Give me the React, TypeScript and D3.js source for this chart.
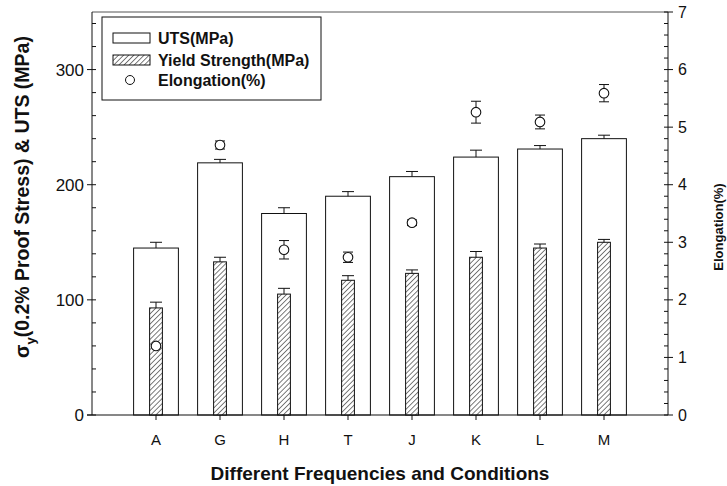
import React, { useRef, useEffect } from "react";
import * as d3 from "d3";

const categories = ["A", "G", "H", "T", "J", "K", "L", "M"];
const utsValues = [145, 219, 175, 190, 207, 224, 231, 240];
const utsErrors = [5, 3, 5, 4, 4.5, 6, 3, 3];
const yieldValues = [93, 133, 105, 117, 123, 137, 145, 150];
const yieldErrors = [5, 4, 5, 4, 3, 5, 3.5, 2.5];
const elongValues = [1.2, 4.69, 2.87, 2.74, 3.34, 5.26, 5.09, 5.59];
const elongErrors = [0.02, 0.07, 0.16, 0.09, 0.05, 0.19, 0.12, 0.15];
const leftTicks = [0, 100, 200, 300];
const rightTicks = [0, 1, 2, 3, 4, 5, 6, 7];

const App = () => {
  const ref = useRef(null);

  useEffect(() => {
    const root = d3.select(ref.current);
    root.selectAll("*").remove();

    const W = 727,
      H = 486;
    const left = 92,
      right = 668,
      top = 12,
      bottom = 415;
    const ink = "#111";
    const font = "Liberation Sans, Arial, sans-serif";

    const svg = root
      .append("svg")
      .attr("width", W)
      .attr("height", H)
      .style("display", "block")
      .style("background", "#fff")
      .attr("font-family", font);

    const defs = svg.append("defs");
    const pat = defs
      .append("pattern")
      .attr("id", "hatch")
      .attr("patternUnits", "userSpaceOnUse")
      .attr("width", 3.6)
      .attr("height", 3.6)
      .attr("patternTransform", "rotate(45)");
    pat.append("rect").attr("width", 3.6).attr("height", 3.6).attr("fill", "#fff");
    pat
      .append("line")
      .attr("x1", 0)
      .attr("y1", 0)
      .attr("x2", 0)
      .attr("y2", 3.6)
      .attr("stroke", ink)
      .attr("stroke-width", 1.1);

    const x = d3.scaleLinear().domain([0, categories.length + 1]).range([left, right]);
    const y = d3.scaleLinear().domain([0, 350]).range([bottom, top]);
    const y2 = d3.scaleLinear().domain([0, 7]).range([bottom, top]);
    const step = x(1) - x(0);
    const utsW = step * 0.7;
    const ysW = step * 0.2;

    // UTS bars
    svg
      .selectAll(".uts")
      .data(utsValues)
      .enter()
      .append("rect")
      .attr("x", (d, i) => x(i + 1) - utsW / 2)
      .attr("y", (d) => y(d))
      .attr("width", utsW)
      .attr("height", (d) => y(0) - y(d))
      .attr("fill", "#fff")
      .attr("stroke", ink)
      .attr("stroke-width", 1);

    // error bars helper
    const errBar = (cx, yTop, yCap, capW) => {
      svg
        .append("line")
        .attr("x1", cx)
        .attr("x2", cx)
        .attr("y1", yTop)
        .attr("y2", yCap)
        .attr("stroke", ink);
      svg
        .append("line")
        .attr("x1", cx - capW / 2)
        .attr("x2", cx + capW / 2)
        .attr("y1", yCap)
        .attr("y2", yCap)
        .attr("stroke", ink);
    };

    utsValues.forEach((v, i) => errBar(x(i + 1), y(v), y(v + utsErrors[i]), 12));

    // yield bars
    svg
      .selectAll(".ys")
      .data(yieldValues)
      .enter()
      .append("rect")
      .attr("x", (d, i) => x(i + 1) - ysW / 2)
      .attr("y", (d) => y(d))
      .attr("width", ysW)
      .attr("height", (d) => y(0) - y(d))
      .attr("fill", "url(#hatch)")
      .attr("stroke", ink)
      .attr("stroke-width", 1);

    yieldValues.forEach((v, i) => errBar(x(i + 1), y(v), y(v + yieldErrors[i]), 12));

    // elongation
    elongValues.forEach((v, i) => {
      const cx = x(i + 1);
      errBar(cx, y2(v), y2(v + elongErrors[i]), 10);
      errBar(cx, y2(v), y2(v - elongErrors[i]), 10);
    });
    svg
      .selectAll(".el")
      .data(elongValues)
      .enter()
      .append("circle")
      .attr("cx", (d, i) => x(i + 1))
      .attr("cy", (d) => y2(d))
      .attr("r", 4.8)
      .attr("fill", "#fff")
      .attr("stroke", ink)
      .attr("stroke-width", 1.1);

    // frame
    svg
      .append("line")
      .attr("x1", left)
      .attr("x2", right)
      .attr("y1", top)
      .attr("y2", top)
      .attr("stroke", "#555");

    // left axis
    const gl = svg.append("g").attr("transform", `translate(${left},0)`);
    gl.append("line").attr("y1", top).attr("y2", bottom).attr("stroke", ink);
    d3.range(0, 351, 20)
      .filter((v) => v % 100 !== 0)
      .forEach((v) => {
        gl.append("line").attr("x1", 0).attr("x2", 4).attr("y1", y(v)).attr("y2", y(v)).attr("stroke", ink);
      });
    leftTicks.forEach((v) => {
      gl.append("line").attr("x1", -5).attr("x2", 4).attr("y1", y(v)).attr("y2", y(v)).attr("stroke", ink);
      gl.append("text")
        .attr("x", -8)
        .attr("y", y(v))
        .attr("dy", "0.35em")
        .attr("text-anchor", "end")
        .attr("font-size", 17)
        .attr("fill", ink)
        .text(v);
    });

    // right axis
    const gr = svg.append("g").attr("transform", `translate(${right},0)`);
    gr.append("line").attr("y1", top).attr("y2", bottom).attr("stroke", ink);
    d3.range(0, 35).forEach((k) => {
      if (k % 5 === 0) return;
      const v = k * 0.2;
      gr.append("line").attr("x1", -4).attr("x2", 0).attr("y1", y2(v)).attr("y2", y2(v)).attr("stroke", ink);
    });
    rightTicks.forEach((v) => {
      gr.append("line").attr("x1", -4).attr("x2", 5).attr("y1", y2(v)).attr("y2", y2(v)).attr("stroke", ink);
      gr.append("text")
        .attr("x", 10)
        .attr("y", y2(v))
        .attr("dy", "0.35em")
        .attr("font-size", 16)
        .attr("fill", ink)
        .text(v);
    });

    // x axis
    svg
      .append("line")
      .attr("x1", left - 5)
      .attr("x2", right)
      .attr("y1", bottom)
      .attr("y2", bottom)
      .attr("stroke", ink)
      .attr("stroke-width", 1.2);
    categories.forEach((c, i) => {
      svg
        .append("line")
        .attr("x1", x(i + 1))
        .attr("x2", x(i + 1))
        .attr("y1", bottom)
        .attr("y2", bottom + 5)
        .attr("stroke", ink);
      svg
        .append("text")
        .attr("x", x(i + 1))
        .attr("y", 445)
        .attr("text-anchor", "middle")
        .attr("font-size", 15)
        .attr("fill", ink)
        .text(c);
    });

    // axis titles
    svg
      .append("text")
      .attr("x", (left + right) / 2)
      .attr("y", 480)
      .attr("text-anchor", "middle")
      .attr("font-size", 19)
      .attr("font-weight", "bold")
      .attr("fill", ink)
      .text("Different Frequencies and Conditions");

    const lt = svg
      .append("text")
      .attr("transform", `translate(29,197) rotate(-90)`)
      .attr("text-anchor", "middle")
      .attr("font-size", 19.5)
      .attr("font-weight", "bold")
      .attr("fill", ink);
    lt.append("tspan").text("σ");
    lt.append("tspan").attr("dy", 6).attr("font-size", 13).text("y");
    lt.append("tspan").attr("dy", -6).text("(0.2% Proof Stress) & UTS (MPa)");

    svg
      .append("text")
      .attr("transform", `translate(723,227) rotate(-90)`)
      .attr("text-anchor", "middle")
      .attr("font-size", 13)
      .attr("font-weight", "bold")
      .attr("fill", ink)
      .text("Elongation(%)");

    // legend
    const lg = svg.append("g");
    lg.append("rect")
      .attr("x", 102)
      .attr("y", 17)
      .attr("width", 219)
      .attr("height", 83)
      .attr("fill", "#fff")
      .attr("stroke", ink);
    lg.append("rect").attr("x", 113).attr("y", 33).attr("width", 37).attr("height", 10).attr("fill", "#fff").attr("stroke", ink);
    lg.append("rect").attr("x", 113).attr("y", 55).attr("width", 37).attr("height", 10).attr("fill", "url(#hatch)").attr("stroke", ink);
    lg.append("circle").attr("cx", 130).attr("cy", 80).attr("r", 4.5).attr("fill", "#fff").attr("stroke", ink);
    const labels = ["UTS(MPa)", "Yield Strength(MPa)", "Elongation(%)"];
    labels.forEach((t, i) => {
      lg.append("text")
        .attr("x", 158)
        .attr("y", [38, 60, 80][i])
        .attr("dy", "0.35em")
        .attr("font-size", 16)
        .attr("font-weight", "bold")
        .attr("fill", ink)
        .text(t);
    });
  }, []);

  return <div ref={ref} style={{ position: "absolute", left: 0, top: 0 }}></div>;
};

export default App;
